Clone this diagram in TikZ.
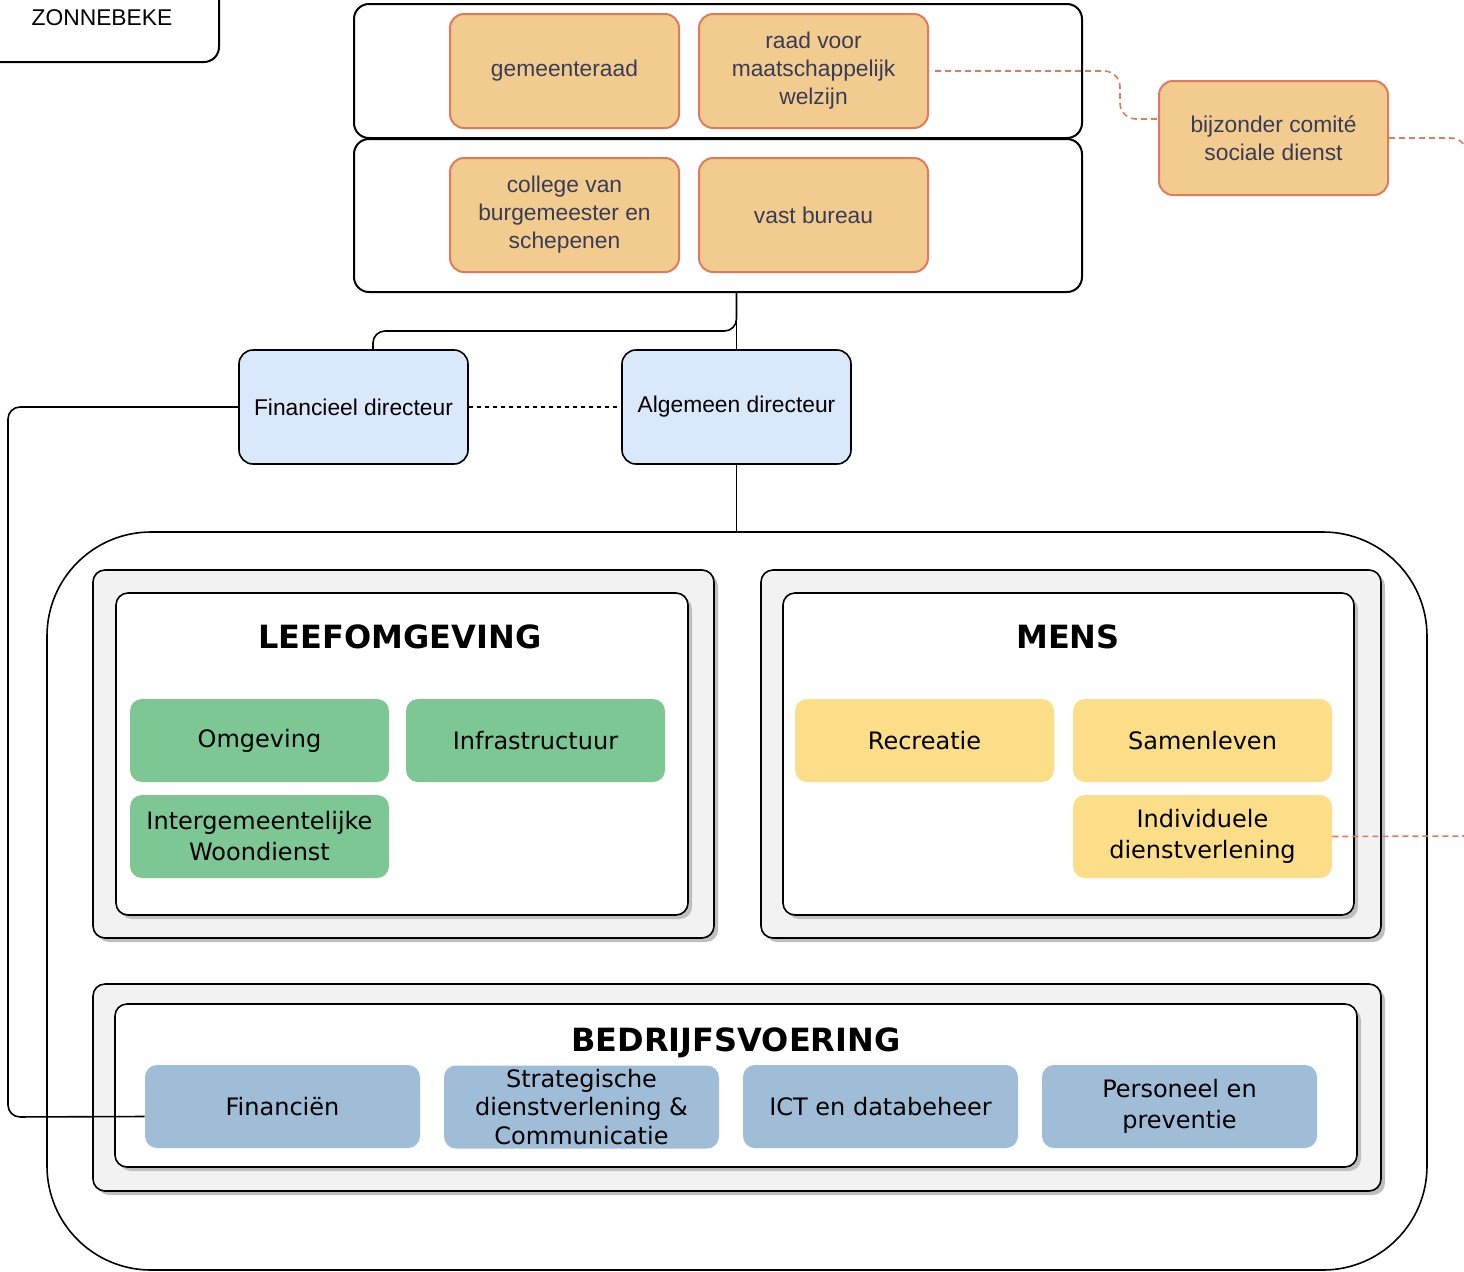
\documentclass[tikz,border=0pt]{standalone}
\usepackage{fontspec}
\setmainfont{Liberation Sans}
\newfontfamily\vfont{DejaVu Sans}
\usetikzlibrary{shadows}
\definecolor{zand}{HTML}{F2CC8F}
\definecolor{zalm}{HTML}{E07A5F}
\definecolor{inkt}{HTML}{393C56}
\definecolor{lichtblauw}{HTML}{DAE8FC}
\definecolor{grijs}{HTML}{F2F2F2}
\definecolor{groen}{HTML}{7CC794}
\definecolor{geel}{HTML}{FDDE88}
\definecolor{staal}{HTML}{9FBDD6}
\tikzset{
  groep/.style={rectangle, rounded corners=7.5pt, draw=black, line width=1pt, fill=white, font=\fontsize{11.4}{14}\selectfont},
  raad/.style={rectangle, rounded corners=7pt, draw=zalm, line width=1pt, fill=zand, text=inkt,
    align=center, minimum width=114.5pt, minimum height=57pt, font=\fontsize{11.4}{14}\selectfont},
  directeur/.style={rectangle, rounded corners=7pt, draw=black, line width=0.8pt, fill=lichtblauw,
    minimum width=114.5pt, minimum height=57pt, font=\fontsize{11.4}{14}\selectfont},
  kader/.style={rectangle, rounded corners=6pt, draw=black, line width=0.8pt, fill=grijs,
    drop shadow={shadow xshift=2pt, shadow yshift=-2pt, fill=black!25, opacity=1}},
  binnen/.style={kader, fill=white},
  titel/.style={font=\vfont\bfseries\fontsize{16}{19}\selectfont},
  dienst/.style={rectangle, rounded corners=6pt, align=center, minimum width=129.5pt,
    minimum height=41.5pt, font=\vfont\fontsize{12}{15.5}\selectfont},
  steun/.style={dienst, minimum width=137.5pt},
  lijn/.style={draw=black, line width=0.8pt},
  zalmlijn/.style={draw=zalm, line width=0.8pt, dash pattern=on 3pt off 2pt}
}

\begin{document}
\begin{tikzpicture}[x=0.5pt, y=-0.5pt]
    \useasboundingbox (0,0) rectangle (1464,1271);
    % bestuur
    \node[groep, minimum width=117pt, minimum height=44pt] (gemeente) at (102,18) {ZONNEBEKE};
    \node[groep, minimum width=364pt, minimum height=67pt] (raden) at (718,71) {};
    \node[groep, minimum width=364pt, minimum height=76.5pt] (bestuur) at (718,215.5) {};
    \node[raad] (gr) at (564.5,71) {gemeenteraad};
    \node[raad] (rmw) at (813.5,71) {raad voor\\maatschappelijk\\welzijn};
    \node[raad] (cbs) at (564.5,215) {college van\\burgemeester en\\schepenen};
    \node[raad] (vb) at (813.5,215) {vast bureau};
    \node[raad] (bcsd) at (1273.5,138) {bijzonder comit\'e\\sociale dienst};
    \node[directeur] (fd) at (353.5,407) {Financieel directeur};
    \node[directeur] (ad) at (736.5,407) {Algemeen directeur};

    % organisatie
    \node[draw, line width=0.8pt, rounded corners=52pt, minimum width=690pt, minimum height=369pt] (org) at (737,901) {};
    \node[kader, minimum width=310.5pt, minimum height=184pt] (leefk) at (403.5,754) {};
    \node[binnen, minimum width=286pt, minimum height=161pt] (leef) at (402,754) {};
    \node[kader, minimum width=310pt, minimum height=184pt] (mensk) at (1071,754) {};
    \node[binnen, minimum width=285.5pt, minimum height=161pt] (mens) at (1068.5,754) {};
    \node[kader, minimum width=644pt, minimum height=103.5pt] (bedrk) at (737,1087.5) {};
    \node[binnen, minimum width=621pt, minimum height=81.5pt] (bedr) at (736,1085.5) {};

    \node[titel] (leeft) at (400,637) {LEEFOMGEVING};
    \node[titel] (menst) at (1068,637) {MENS};
    \node[titel] (bedrt) at (736,1043) {BEDRIJFSVOERING};

    \node[dienst, fill=groen] (omg) at (259.5,740.5) {Omgeving};
    \node[dienst, fill=groen] (infra) at (535.5,740.5) {Infrastructuur};
    \node[dienst, fill=groen] (iwd) at (259.5,836.5) {Intergemeentelijke\\Woondienst};
    \node[dienst, fill=geel] (recr) at (924.5,740.5) {Recreatie};
    \node[dienst, fill=geel] (samen) at (1202.5,740.5) {Samenleven};
    \node[dienst, fill=geel] (indiv) at (1202.5,836.5) {Individuele\\dienstverlening};
    \node[steun, fill=staal] (fin) at (282.5,1106.5) {Financi\"en};
    \node[steun, fill=staal, inner ysep=0pt, font=\vfont\fontsize{12}{14.25}\selectfont] (strat) at (581.5,1107) {Strategische\\dienstverlening \&\\Communicatie};
    \node[steun, fill=staal] (ict) at (880.5,1106.5) {ICT en databeheer};
    \node[steun, fill=staal] (pers) at (1179.5,1106.5) {Personeel en\\preventie};

    % lijnen
    \coordinate (links) at (8,1117);
    \coordinate (rand1) at (1467,172);
    \coordinate (rand2) at (1470,836);
    \draw[lijn] (ad.north) -- (ad.north |- bestuur.south);
    \draw[lijn, rounded corners=6pt] (ad.north |- bestuur.south) -- ++(0,38) -| ([xshift=9.75pt]fd.north);
    \draw[lijn, dash pattern=on 2pt off 2pt] (fd.east) -- (ad.west);
    \draw[lijn] (ad.south) -- (ad.south |- org.north);
    \draw[lijn, rounded corners=6pt] (fd.west) -| (links) -- ([yshift=-5pt]fin.west);
    \draw[zalmlijn, rounded corners=8pt] ([xshift=3pt]rmw.east) -| ([xshift=-19pt, yshift=9.5pt]bcsd.west) -- ([yshift=9.5pt]bcsd.west);
    \draw[zalmlijn, rounded corners=8pt] (bcsd.east) -| (rand1);
    \draw[zalmlijn] (indiv.east) -- (rand2);
\end{tikzpicture}
\end{document}
